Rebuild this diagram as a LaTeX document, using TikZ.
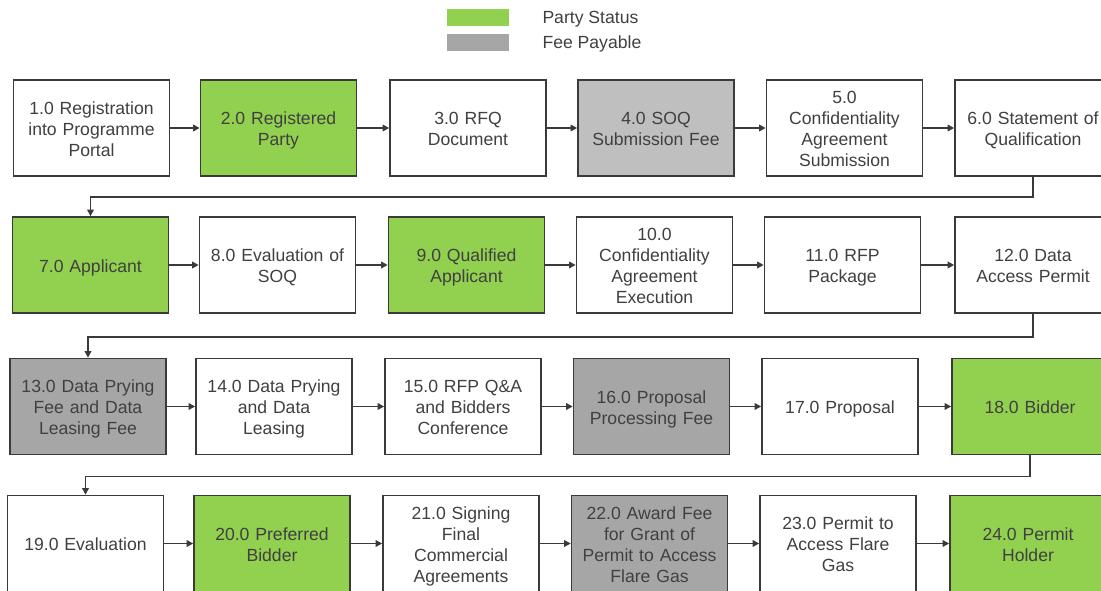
\documentclass[tikz,border=0pt]{standalone}
\usepackage{fontspec}
\setmainfont{Liberation Sans}
\usetikzlibrary{arrows.meta}
\definecolor{partygreen}{RGB}{146,208,80}
\definecolor{feegray}{RGB}{166,166,166}
\definecolor{lightfee}{RGB}{191,191,191}
\definecolor{boxline}{RGB}{58,58,58}
\definecolor{textgray}{RGB}{64,64,64}

\tikzset{every picture/.style={line width=1pt}}

\begin{document}
\begin{tikzpicture}[x=1pt,y=1pt,yscale=-1,xscale=1,
  stage/.style={draw=boxline, line width=1.6pt, fill=white, minimum width=156pt, minimum height=96pt, text width=154pt, align=center, inner sep=0pt, text=textgray, font=\fontsize{17.6}{21}\selectfont, execute at begin node=\rule{0pt}{20.5pt}, execute at end node=\strut},
  party/.style={stage, fill=partygreen},
  fee/.style={stage, fill=feegray},
  flow/.style={draw=boxline, line width=1.6pt, -{Triangle[length=6.5pt,width=6.5pt]}},
  legendkey/.style={fill, draw=none, minimum width=62pt, minimum height=17pt, inner sep=0pt},
  legendtext/.style={anchor=west, inner sep=0pt, text=textgray, font=\fontsize{17.6}{21}\selectfont}]
\useasboundingbox (0,0) rectangle (1101,591);
\clip (0,0) rectangle (1101,591);

% Legend
\node[legendkey, fill=partygreen] (keyparty) at (478,17.5) {};
\node[legendkey, fill=feegray] (keyfee) at (478,42.5) {};
\node[legendtext] (labparty) at (542,19) {Party Status};
\node[legendtext] (labfee) at (542,44) {Fee Payable};

% Row 1
\node[stage] (s1) at (91.5,128) {1.0 Registration\\into Programme\\Portal};
\node[party] (s2) at (278.5,128) {2.0 Registered\\Party};
\node[stage] (s3) at (468,128) {3.0 RFQ\\Document};
\node[stage, fill=lightfee] (s4) at (656,128) {4.0 SOQ\\Submission Fee};
\node[stage] (s5) at (844.5,128) {5.0\\Confidentiality\\Agreement\\Submission};
\node[stage] (s6) at (1033,128) {6.0 Statement of\\Qualification};

% Row 2
\node[party] (s7) at (90.5,265) {7.0 Applicant};
\node[stage] (s8) at (277.5,265) {8.0 Evaluation of\\SOQ};
\node[party] (s9) at (466.5,265) {9.0 Qualified\\Applicant};
\node[stage] (s10) at (654.5,265) {10.0\\Confidentiality\\Agreement\\Execution};
\node[stage] (s11) at (842.5,265) {11.0 RFP\\Package};
\node[stage] (s12) at (1033,265) {12.0 Data\\Access Permit};

% Row 3
\node[fee] (s13) at (88,406.5) {13.0 Data Prying\\Fee and Data\\Leasing Fee};
\node[stage] (s14) at (274,406.5) {14.0 Data Prying\\and Data\\Leasing};
\node[stage] (s15) at (463,406.5) {15.0 RFP Q\&A\\and Bidders\\Conference};
\node[fee] (s16) at (651.5,406.5) {16.0 Proposal\\Processing Fee};
\node[stage] (s17) at (840,406.5) {17.0 Proposal};
\node[party] (s18) at (1030,406.5) {18.0 Bidder};

% Row 4
\node[stage] (s19) at (85.5,543.5) {19.0 Evaluation};
\node[party] (s20) at (272,543.5) {20.0 Preferred\\Bidder};
\node[stage] (s21) at (461,543.5) {21.0 Signing\\Final\\Commercial\\Agreements};
\node[fee] (s22) at (649.5,543.5) {22.0 Award Fee\\for Grant of\\Permit to Access\\Flare Gas};
\node[stage] (s23) at (838,543.5) {23.0 Permit to\\Access Flare\\Gas};
\node[party] (s24) at (1028,543.5) {24.0 Permit\\Holder};

% Arrows along each row
\draw[flow] (s1) -- (s2);
\draw[flow] (s2) -- (s3);
\draw[flow] (s3) -- (s4);
\draw[flow] (s4) -- (s5);
\draw[flow] (s5) -- (s6);
\draw[flow] (s7) -- (s8);
\draw[flow] (s8) -- (s9);
\draw[flow] (s9) -- (s10);
\draw[flow] (s10) -- (s11);
\draw[flow] (s11) -- (s12);
\draw[flow] (s13) -- (s14);
\draw[flow] (s14) -- (s15);
\draw[flow] (s15) -- (s16);
\draw[flow] (s16) -- (s17);
\draw[flow] (s17) -- (s18);
\draw[flow] (s19) -- (s20);
\draw[flow] (s20) -- (s21);
\draw[flow] (s21) -- (s22);
\draw[flow] (s22) -- (s23);
\draw[flow] (s23) -- (s24);

% Wrap-around between rows
\draw[flow] (s6.south) -- ++(0,20) -| (s7.north);
\draw[flow] (s12.south) -- ++(0,23) -| (s13.north);
\draw[flow] (s18.south) -- ++(0,21) -| (s19.north);

\end{tikzpicture}
\end{document}
